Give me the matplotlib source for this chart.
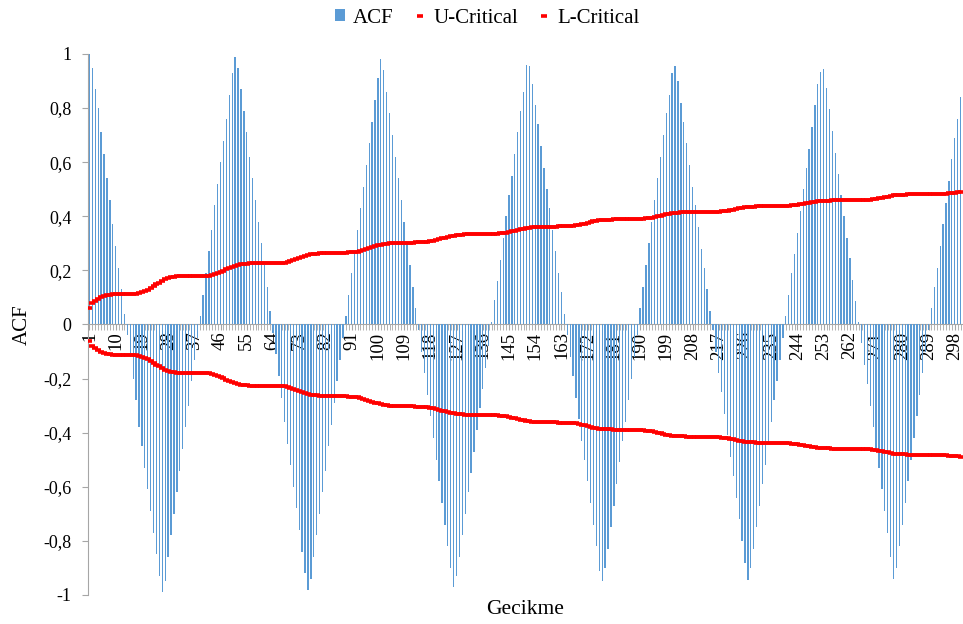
import numpy as np
import matplotlib.pyplot as plt
from matplotlib.patches import Patch
from matplotlib.lines import Line2D

plt.rcParams['font.family'] = ['Liberation Serif', 'DejaVu Serif']

# ACF values for lags 1..300
acf = [
    1.00, 0.95, 0.87, 0.80, 0.71, 0.63, 0.54, 0.46, 0.37, 0.29,
    0.21, 0.13, 0.04, -0.04, -0.12, -0.20, -0.28, -0.38, -0.45, -0.53,
    -0.61, -0.69, -0.77, -0.85, -0.93, -0.99, -0.95, -0.86, -0.78, -0.70,
    -0.62, -0.54, -0.46, -0.38, -0.30, -0.21, -0.13, -0.05, 0.03, 0.11,
    0.19, 0.27, 0.35, 0.44, 0.52, 0.60, 0.68, 0.76, 0.85, 0.93,
    # 51-100
    0.99, 0.95, 0.87, 0.79, 0.71, 0.62, 0.54, 0.46, 0.38, 0.30,
    0.22, 0.14, 0.05, -0.03, -0.11, -0.19, -0.27, -0.36, -0.44, -0.52,
    -0.60, -0.68, -0.76, -0.84, -0.92, -0.98, -0.94, -0.86, -0.78, -0.70,
    -0.62, -0.54, -0.45, -0.37, -0.29, -0.21, -0.13, -0.05, 0.03, 0.11,
    0.19, 0.27, 0.35, 0.43, 0.51, 0.59, 0.67, 0.75, 0.83, 0.91,
    # 101-150
    0.98, 0.94, 0.86, 0.78, 0.70, 0.62, 0.54, 0.46, 0.38, 0.30,
    0.22, 0.14, 0.06, -0.02, -0.10, -0.18, -0.26, -0.34, -0.42, -0.50,
    -0.58, -0.66, -0.74, -0.82, -0.90, -0.97, -0.93, -0.86, -0.78, -0.70,
    -0.62, -0.55, -0.47, -0.39, -0.31, -0.24, -0.16, -0.08, 0.01, 0.09,
    0.16, 0.24, 0.32, 0.40, 0.48, 0.55, 0.63, 0.71, 0.79, 0.86,
    # 151-200
    0.96, 0.955, 0.89, 0.81, 0.74, 0.66, 0.58, 0.50, 0.43, 0.35,
    0.27, 0.19, 0.12, 0.04, -0.04, -0.12, -0.19, -0.27, -0.35, -0.43,
    -0.50, -0.58, -0.66, -0.74, -0.82, -0.91, -0.95, -0.90, -0.83, -0.75,
    -0.67, -0.59, -0.51, -0.43, -0.36, -0.28, -0.20, -0.12, -0.04, 0.06,
    0.14, 0.22, 0.30, 0.38, 0.46, 0.54, 0.62, 0.70, 0.78, 0.85,
    # 201-250
    0.93, 0.955, 0.90, 0.82, 0.75, 0.67, 0.59, 0.51, 0.44, 0.36,
    0.28, 0.21, 0.13, 0.05, -0.02, -0.10, -0.18, -0.25, -0.33, -0.41,
    -0.49, -0.56, -0.64, -0.72, -0.80, -0.88, -0.945, -0.90, -0.83, -0.75,
    -0.67, -0.59, -0.52, -0.44, -0.36, -0.28, -0.21, -0.13, -0.05, 0.03,
    0.11, 0.19, 0.26, 0.34, 0.42, 0.50, 0.58, 0.65, 0.73, 0.81,
    # 251-300
    0.89, 0.935, 0.945, 0.875, 0.795, 0.716, 0.635, 0.555, 0.48, 0.40,
    0.32, 0.244, 0.166, 0.087, 0.01, -0.07, -0.15, -0.22, -0.30, -0.38,
    -0.46, -0.53, -0.61, -0.69, -0.77, -0.86, -0.94, -0.90, -0.82, -0.74,
    -0.66, -0.58, -0.50, -0.42, -0.34, -0.26, -0.18, -0.10, -0.02, 0.06,
    0.14, 0.21, 0.29, 0.37, 0.45, 0.53, 0.61, 0.69, 0.76, 0.84,
]

# upper critical bound, lags 1..300 (lower bound is its mirror)
u_crit = [
    0.060, 0.078, 0.088, 0.096, 0.102, 0.106, 0.109, 0.110, 0.111, 0.111,
    0.112, 0.112, 0.112, 0.112, 0.112, 0.113, 0.114, 0.116, 0.119, 0.123,
    0.128, 0.134, 0.141, 0.148, 0.155, 0.161, 0.167, 0.172, 0.175, 0.177,
    0.178, 0.179, 0.179, 0.179, 0.180, 0.180, 0.180, 0.180, 0.180, 0.180,
    0.181, 0.181, 0.182, 0.185, 0.189, 0.194, 0.199, 0.204, 0.209, 0.213,
    0.217, 0.220, 0.222, 0.224, 0.225, 0.226, 0.226, 0.226, 0.227, 0.227,
    0.227, 0.227, 0.227, 0.228, 0.228, 0.228, 0.229, 0.229, 0.231, 0.234,
    0.238, 0.242, 0.246, 0.250, 0.254, 0.257, 0.259, 0.261, 0.262, 0.263,
    0.264, 0.264, 0.265, 0.265, 0.265, 0.265, 0.266, 0.266, 0.266, 0.267,
    0.267, 0.268, 0.269, 0.271, 0.274, 0.278, 0.282, 0.286, 0.289, 0.292,
    0.295, 0.297, 0.299, 0.300, 0.301, 0.302, 0.302, 0.302, 0.303, 0.303,
    0.303, 0.303, 0.304, 0.304, 0.304, 0.305, 0.306, 0.307, 0.309, 0.312,
    0.315, 0.318, 0.321, 0.324, 0.326, 0.328, 0.330, 0.331, 0.332, 0.333,
    0.333, 0.333, 0.334, 0.334, 0.334, 0.334, 0.334, 0.335, 0.335, 0.335,
    0.336, 0.337, 0.338, 0.340, 0.342, 0.345, 0.347, 0.350, 0.352, 0.354,
    0.356, 0.358, 0.359, 0.360, 0.361, 0.361, 0.362, 0.362, 0.362, 0.362,
    0.362, 0.363, 0.363, 0.363, 0.363, 0.364, 0.365, 0.366, 0.368, 0.370,
    0.373, 0.376, 0.379, 0.381, 0.383, 0.385, 0.386, 0.387, 0.388, 0.388,
    0.389, 0.389, 0.389, 0.389, 0.390, 0.390, 0.390, 0.390, 0.390, 0.391,
    0.391, 0.392, 0.393, 0.395, 0.397, 0.400, 0.402, 0.405, 0.407, 0.409,
    0.411, 0.412, 0.413, 0.414, 0.414, 0.415, 0.415, 0.415, 0.415, 0.415,
    0.415, 0.416, 0.416, 0.416, 0.416, 0.416, 0.417, 0.418, 0.419, 0.421,
    0.423, 0.425, 0.427, 0.429, 0.431, 0.433, 0.434, 0.435, 0.436, 0.437,
    0.437, 0.437, 0.437, 0.438, 0.438, 0.438, 0.438, 0.438, 0.438, 0.439,
    0.439, 0.440, 0.441, 0.442, 0.444, 0.446, 0.448, 0.450, 0.452, 0.454,
    0.455, 0.456, 0.457, 0.458, 0.458, 0.459, 0.459, 0.459, 0.459, 0.459,
    0.459, 0.460, 0.460, 0.460, 0.460, 0.460, 0.461, 0.461, 0.462, 0.463,
    0.465, 0.467, 0.469, 0.471, 0.473, 0.475, 0.477, 0.478, 0.479, 0.480,
    0.480, 0.481, 0.481, 0.481, 0.481, 0.481, 0.481, 0.482, 0.482, 0.482,
    0.482, 0.482, 0.483, 0.483, 0.484, 0.485, 0.486, 0.487, 0.488, 0.489,
]
assert len(acf) == 300 and len(u_crit) == 300, (len(acf), len(u_crit))

lags = np.arange(1, 301)
l_crit = [-v for v in u_crit]

label_lags = list(range(1, 301, 9))
y_ticks = [1, 0.8, 0.6, 0.4, 0.2, 0, -0.2, -0.4, -0.6, -0.8, -1]
y_labels = ['1', '0,8', '0,6', '0,4', '0,2', '0', '-0,2', '-0,4', '-0,6', '-0,8', '-1']

bar_col = '#5B9BD5'
red = '#FF0000'
axis_gray = '#A6A6A6'

fig = plt.figure(figsize=(9.63, 6.24), dpi=100)
ax = fig.add_axes([0.0914, 0.0465, 0.9076, 0.867])

ax.bar(lags, acf, width=0.45, color=bar_col, linewidth=0, zorder=2)
ax.plot(lags, u_crit, ls='none', marker='_', ms=5, mew=2.6, color=red, zorder=3)
ax.plot(lags, l_crit, ls='none', marker='_', ms=5, mew=2.6, color=red, zorder=3)

ax.set_xlim(0.5, 300.5)
ax.set_ylim(-1, 1)

for s in ['top', 'right']:
    ax.spines[s].set_visible(False)
ax.spines['bottom'].set_position(('data', 0))
ax.spines['bottom'].set_color(axis_gray)
ax.spines['left'].set_color(axis_gray)
ax.spines['bottom'].set_zorder(1)

ax.set_xticks(label_lags)
ax.set_xticklabels([str(v) for v in label_lags], rotation=90, fontsize=13.5)
ax.set_xticks(lags, minor=True)
ax.tick_params(axis='x', which='both', direction='out', length=4, color=axis_gray, pad=1)

ax.set_yticks(y_ticks)
ax.set_yticklabels(y_labels, fontsize=13)
ax.tick_params(axis='y', direction='out', length=4, color=axis_gray, pad=8)

ax.set_ylabel('ACF', fontsize=15)
ax.yaxis.set_label_coords(-0.064, 0.5)
ax.set_xlabel('Gecikme', fontsize=15.5)
ax.xaxis.set_label_coords(0.5, -0.01)

handles = [
    Patch(facecolor=bar_col, edgecolor='none'),
    Line2D([], [], ls='none', marker='_', ms=4.5, mew=2.6, color=red),
    Line2D([], [], ls='none', marker='_', ms=4.5, mew=2.6, color=red),
]
fig.legend(handles, ['ACF', 'U-Critical', 'L-Critical'], loc='upper center',
           bbox_to_anchor=(0.506, 1.016), ncol=3, frameon=False, fontsize=15,
           handlelength=0.5, handleheight=0.5, handletextpad=0.4,
           columnspacing=1.0)

fig.savefig('out.png', dpi=100)
